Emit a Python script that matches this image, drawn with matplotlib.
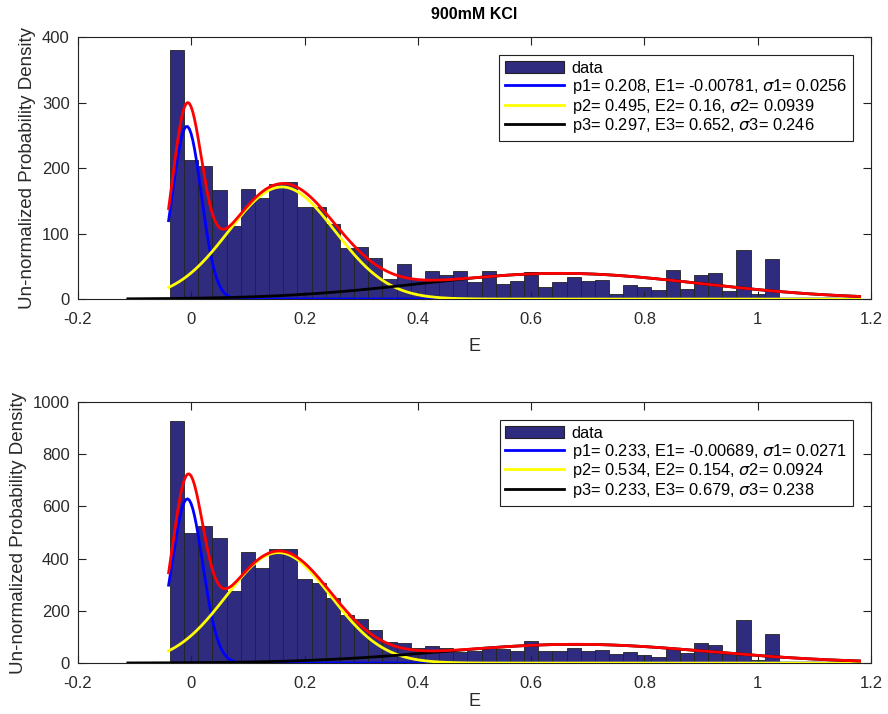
import numpy as np
import matplotlib
matplotlib.use('Agg')
from matplotlib import pyplot as plt
from matplotlib.patches import Patch
from matplotlib.lines import Line2D

plt.rcParams['font.family'] = ['Liberation Sans', 'DejaVu Sans']
plt.rcParams['mathtext.fontset'] = 'dejavusans'

# histogram bins (width 0.025, first centre at -0.025)
bin_width = 0.025
bin_centers = -0.025 + bin_width * np.arange(43)

counts_top = [381, 212, 203, 167, 112, 168, 154, 176, 178, 141, 140, 115, 78, 80, 63,
              31, 54, 30, 43, 36, 43, 26, 43, 23, 28, 41, 19, 26, 33, 28, 29, 8,
              21, 18, 14, 44, 16, 37, 39, 13, 75, 8, 61]
counts_bot = [927, 500, 525, 479, 276, 427, 364, 437, 437, 322, 307, 249, 184, 169, 128,
              82, 75, 57, 67, 59, 41, 47, 62, 54, 47, 85, 45, 45, 57, 45, 49, 33,
              43, 30, 22, 58, 39, 75, 68, 33, 164, 13, 112]

# fitted gaussian parameters (p, E, sigma)
fit_top = [(0.208, -0.00781, 0.0256), (0.495, 0.16, 0.0939), (0.297, 0.652, 0.246)]
fit_bot = [(0.233, -0.00689, 0.0271), (0.534, 0.154, 0.0924), (0.233, 0.679, 0.238)]
fit_top_txt = [('0.208', '-0.00781', '0.0256'), ('0.495', '0.16', '0.0939'), ('0.297', '0.652', '0.246')]
fit_bot_txt = [('0.233', '-0.00689', '0.0271'), ('0.534', '0.154', '0.0924'), ('0.233', '0.679', '0.238')]

bar_color = '#2f2b7f'
comp_colors = ['#0000ff', '#ffff00', '#000000']


def gauss(x, p, mu, s):
    return p / (s * np.sqrt(2 * np.pi)) * np.exp(-0.5 * ((x - mu) / s) ** 2)


def panel(ax, counts, fit, fit_txt, ymax, yticks, xlabpad):
    ax.bar(bin_centers, counts, width=bin_width, color=bar_color,
           edgecolor='#222222', linewidth=0.6, zorder=1)
    area = np.sum(counts) * bin_width
    x = np.linspace(-0.04, 1.18, 400)
    xk = np.linspace(-0.112, 1.18, 400)
    total = np.zeros_like(x)
    for (p, mu, s), c in zip(fit, comp_colors):
        xx = xk if c == '#000000' else x
        ax.plot(xx, area * gauss(xx, p, mu, s), color=c, lw=2, zorder=3)
        total += area * gauss(x, p, mu, s)
    ax.plot(x, total, color='#ff0000', lw=2, zorder=4)

    ax.set_xlim(-0.2, 1.2)
    ax.set_ylim(0, ymax)
    ax.set_xticks(np.arange(-0.2, 1.21, 0.2))
    ax.set_xticklabels(['-0.2', '0', '0.2', '0.4', '0.6', '0.8', '1', '1.2'])
    ax.set_yticks(yticks)
    ax.tick_params(direction='in', top=True, right=True, length=6, labelsize=12,
                   colors='#222222', labelcolor='#2a2a2a', pad=6)
    ax.tick_params(axis='x', pad=9)
    for sp in ax.spines.values():
        sp.set_color('#222222')
        sp.set_linewidth(0.8)
    ax.set_xlabel('E', fontsize=13, color='#2a2a2a', labelpad=xlabpad)
    ax.set_ylabel('Un-normalized Probability Density', fontsize=13.5, color='#2a2a2a', labelpad=4)

    handles = [Patch(facecolor=bar_color, edgecolor='#222222', lw=0.8)]
    labels = ['data']
    for i, (c, (p, mu, s)) in enumerate(zip(comp_colors, fit_txt)):
        handles.append(Line2D([], [], color=c, lw=2))
        labels.append('p%d= %s, E%d= %s, $\\sigma$%d= %s' % (i + 1, p, i + 1, mu, i + 1, s))
    leg = ax.legend(handles, labels, loc='upper right', bbox_to_anchor=(0.977, 0.931),
                    fancybox=False, edgecolor='#222222', fontsize=11.8, handlelength=3.6,
                    handleheight=0.8, labelspacing=0.05, borderpad=0.35, handletextpad=0.45,
                    borderaxespad=0, framealpha=1)
    leg.get_frame().set_linewidth(0.8)


fig = plt.figure(figsize=(8.88, 7.14), dpi=100)
ax1 = fig.add_axes([0.0878, 0.5812, 0.893, 0.3669])
ax2 = fig.add_axes([0.0878, 0.0714, 0.893, 0.3655])

panel(ax1, counts_top, fit_top, fit_top_txt, 400, [0, 100, 200, 300, 400], 8)
panel(ax2, counts_bot, fit_bot, fit_bot_txt, 1000, [0, 200, 400, 600, 800, 1000], 1.5)
ax1.set_title('900mM KCl', fontsize=11.5, fontweight='bold', pad=13)

fig.savefig('out.png', dpi=100)
